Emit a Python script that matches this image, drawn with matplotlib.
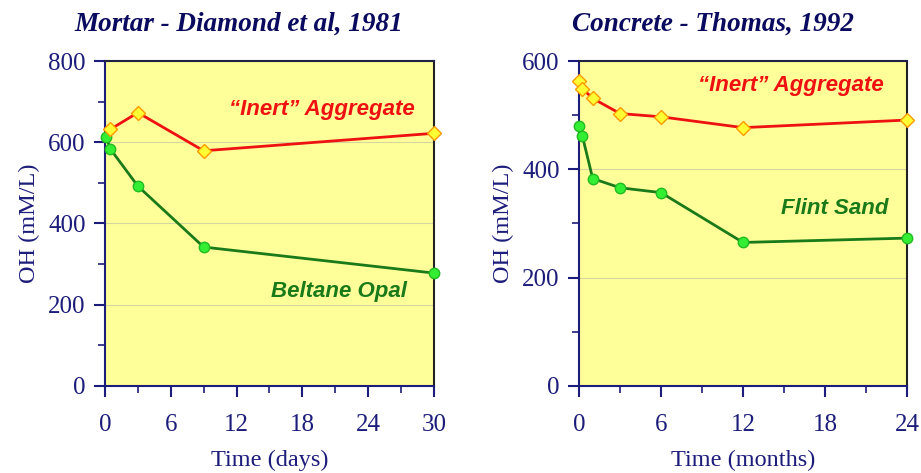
import matplotlib
matplotlib.use("Agg")
import matplotlib.pyplot as plt
from matplotlib.ticker import MultipleLocator

# Left panel: Mortar - Diamond et al, 1981
mortar_inert_x = [0.5, 3, 9, 30]
mortar_inert_y = [632, 673, 579, 622]
mortar_opal_x = [0.1, 0.5, 3, 9, 30]
mortar_opal_y = [614, 583, 492, 342, 278]

# Right panel: Concrete - Thomas, 1992
concrete_inert_x = [0, 0.25, 1, 3, 6, 12, 24]
concrete_inert_y = [563, 549, 531, 503, 497, 477, 491]
concrete_flint_x = [0, 0.25, 1, 3, 6, 12, 24]
concrete_flint_y = [480, 461, 383, 366, 357, 265, 273]

NAVY = "#1c1c7a"
TITLE = "#0a0a5e"
BG = "#ffff99"
RED = "#ee1111"
GREEN = "#1a7a1a"

fig = plt.figure(figsize=(9.21, 4.73), dpi=100)
fig.patch.set_facecolor("white")

serif = "Liberation Serif"
sans = "Liberation Sans"


def style_axes(ax, xmax, ymax, xlabel):
    ax.set_facecolor(BG)
    ax.set_xlim(0, xmax)
    ax.set_ylim(0, ymax)
    ax.xaxis.set_major_locator(MultipleLocator(6))
    ax.xaxis.set_minor_locator(MultipleLocator(3))
    ax.yaxis.set_major_locator(MultipleLocator(200))
    ax.yaxis.set_minor_locator(MultipleLocator(100))
    ax.grid(axis="y", which="major", color="#d6d6a0", linewidth=0.8)
    ax.set_axisbelow(True)
    for s in ["left", "bottom"]:
        ax.spines[s].set_color(NAVY)
        ax.spines[s].set_linewidth(1.5)
    ax.spines["top"].set_color("#222244")
    ax.spines["right"].set_color("#222222")
    ax.spines["top"].set_linewidth(1.5)
    ax.spines["right"].set_linewidth(1.5)
    ax.tick_params(which="major", direction="out", length=8, width=1.5, color=NAVY,
                   labelcolor=NAVY, labelsize=18, pad=6)
    ax.tick_params(axis="x", which="major", pad=12)
    ax.tick_params(which="minor", direction="out", length=5, width=1.2, color=NAVY)
    for lbl in ax.get_xticklabels() + ax.get_yticklabels():
        lbl.set_fontfamily(serif)
    ax.set_xlabel(xlabel, fontsize=17.5, color=NAVY, fontfamily=serif, labelpad=10)
    ax.set_ylabel("OH (mM/L)", fontsize=17.5, color=NAVY, fontfamily=serif, labelpad=6)


def plot_series(ax, x, y, color, marker, mface, medge, msize):
    ax.plot(x, y, color=color, linewidth=2, marker=marker, markersize=msize,
            markerfacecolor=mface, markeredgecolor=medge, markeredgewidth=1.0,
            clip_on=False, zorder=3)


ax1 = fig.add_axes([0.114, 0.184, 0.357, 0.687])
style_axes(ax1, 30, 800, "Time (days)")
plot_series(ax1, mortar_opal_x, mortar_opal_y, GREEN, "o", "#33ee33", "#22bb22", 7.5)
plot_series(ax1, mortar_inert_x, mortar_inert_y, RED, "D", "#ffff33", "#ff9900", 7)
ax1.text(0.66, 0.852, "\u201cInert\u201d Aggregate", transform=ax1.transAxes, ha="center",
         va="center", color=RED, fontsize=16, fontweight="bold", fontstyle="italic",
         fontfamily=sans)
ax1.text(0.71, 0.29, "Beltane Opal", transform=ax1.transAxes, ha="center",
         va="center", color=GREEN, fontsize=16, fontweight="bold", fontstyle="italic",
         fontfamily=sans)
fig.text(0.259, 0.949, "Mortar - Diamond et al, 1981", ha="center", va="center",
         color=TITLE, fontsize=19.5, fontweight="bold", fontstyle="italic", fontfamily=serif)

ax2 = fig.add_axes([0.6287, 0.184, 0.3561, 0.687])
style_axes(ax2, 24, 600, "Time (months)")
plot_series(ax2, concrete_flint_x, concrete_flint_y, GREEN, "o", "#33ee33", "#22bb22", 7.5)
plot_series(ax2, concrete_inert_x, concrete_inert_y, RED, "D", "#ffff33", "#ff9900", 7)
ax2.text(0.645, 0.925, "\u201cInert\u201d Aggregate", transform=ax2.transAxes, ha="center",
         va="center", color=RED, fontsize=16, fontweight="bold", fontstyle="italic",
         fontfamily=sans)
ax2.text(0.78, 0.545, "Flint Sand", transform=ax2.transAxes, ha="center",
         va="center", color=GREEN, fontsize=16, fontweight="bold", fontstyle="italic",
         fontfamily=sans)
fig.text(0.774, 0.949, "Concrete - Thomas, 1992", ha="center", va="center",
         color=TITLE, fontsize=19.5, fontweight="bold", fontstyle="italic", fontfamily=serif)

fig.savefig("out.png", dpi=100)
